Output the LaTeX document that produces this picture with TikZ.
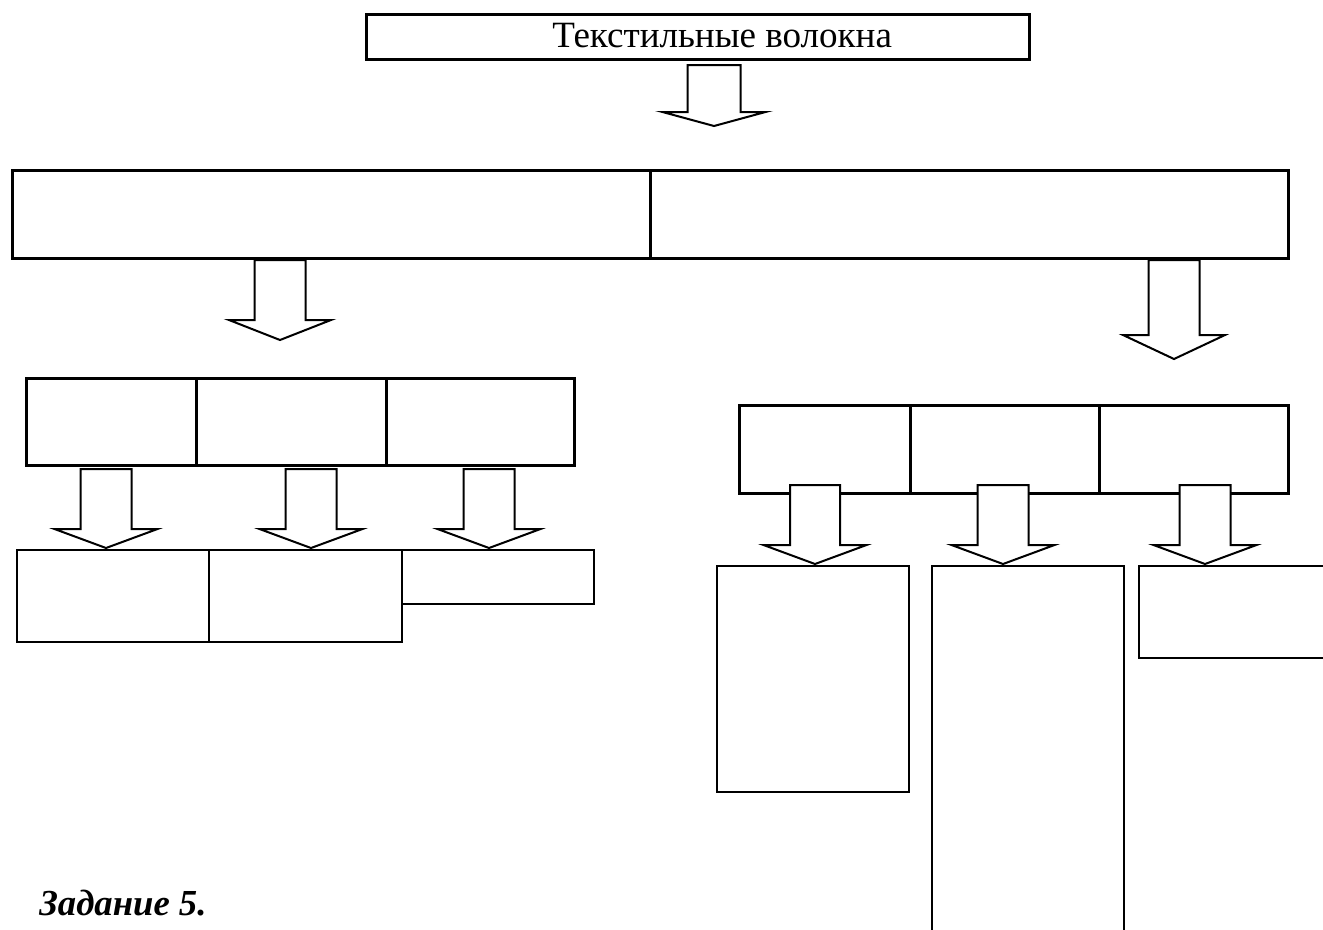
\documentclass[tikz,border=0pt]{standalone}
\usepackage{fontspec}
\setmainfont{Liberation Serif}
\tikzset{
  box/.style={draw, line width=2.1pt, inner sep=0pt, anchor=north west},
  thinbox/.style={box, line width=1.8pt},
  arrowline/.style={draw, fill=white, line width=1.5pt, line join=miter},
  pics/dnarrow/.style args={#1/#2/#3/#4}{code={
    \path[arrowline] (0,0) -- (-#2,-#4) -- (-#1,-#4) -- (-#1,-#3) -- (#1,-#3) -- (#1,-#4) -- (#2,-#4) -- cycle;
  }}
}
\begin{document}
\begin{tikzpicture}[x=0.75pt,y=-0.75pt]
\useasboundingbox (0,0) rectangle (1323,929);
\clip (0,0) rectangle (1323,929);
\fill[white] (0,0) rectangle (1323,929);
% top box
\node[box, minimum width=663*0.75pt, minimum height=45*0.75pt] (top) at (365,13) {};
\node[anchor=base west, inner sep=0pt, font=\fontsize{27.8}{33}\selectfont] (title) at (552,47) {Текстильные волокна};
% big box
\node[box, minimum width=638*0.75pt, minimum height=88*0.75pt] (bigL) at (11,169) {};
\node[box, minimum width=638*0.75pt, minimum height=88*0.75pt] (bigR) at (649,169) {};
% left row
\node[box, minimum width=170*0.75pt, minimum height=87*0.75pt] (l1) at (25,377) {};
\node[box, minimum width=190*0.75pt, minimum height=87*0.75pt] (l2) at (195,377) {};
\node[box, minimum width=188*0.75pt, minimum height=87*0.75pt] (l3) at (385,377) {};
% right row
\node[box, minimum width=171*0.75pt, minimum height=88*0.75pt] (r1) at (738,404) {};
\node[box, minimum width=189*0.75pt, minimum height=88*0.75pt] (r2) at (909,404) {};
\node[box, minimum width=189*0.75pt, minimum height=88*0.75pt] (r3) at (1098,404) {};
% bottom left boxes
\node[thinbox, minimum width=192*0.75pt, minimum height=92*0.75pt] (b1) at (16,549) {};
\node[thinbox, minimum width=193*0.75pt, minimum height=92*0.75pt] (b2) at (208,549) {};
\node[thinbox, minimum width=192*0.75pt, minimum height=54*0.75pt] (b3) at (401,549) {};
% bottom right boxes
\node[thinbox, minimum width=192*0.75pt, minimum height=226*0.75pt] (d1) at (716,565) {};
\node[thinbox, minimum width=192*0.75pt, minimum height=400*0.75pt] (d2) at (931,565) {};
\node[thinbox, minimum width=250*0.75pt, minimum height=92*0.75pt] (d3) at (1138,565) {};
% arrows
\pic at (714,126) {dnarrow={26.5/51.5/61/14}};
\pic at (280,340) {dnarrow={25.5/51/80/20}};
\pic at (1174,359) {dnarrow={25.5/51/99/24}};
\pic at (106,548) {dnarrow={25.5/51.5/79/19}};
\pic at (311,548) {dnarrow={25.5/51.5/79/19}};
\pic at (489,548) {dnarrow={25.5/51.5/79/19}};
\pic at (815,564) {dnarrow={25/51.5/79/19}};
\pic at (1003,564) {dnarrow={25.5/51.5/79/19}};
\pic at (1205,564) {dnarrow={25.5/51.5/79/19}};
% task label
\node[anchor=base west, inner sep=0pt, font=\fontsize{27.5}{33}\selectfont\bfseries\itshape] (task) at (39,915) {Задание 5.};
\end{tikzpicture}
\end{document}
